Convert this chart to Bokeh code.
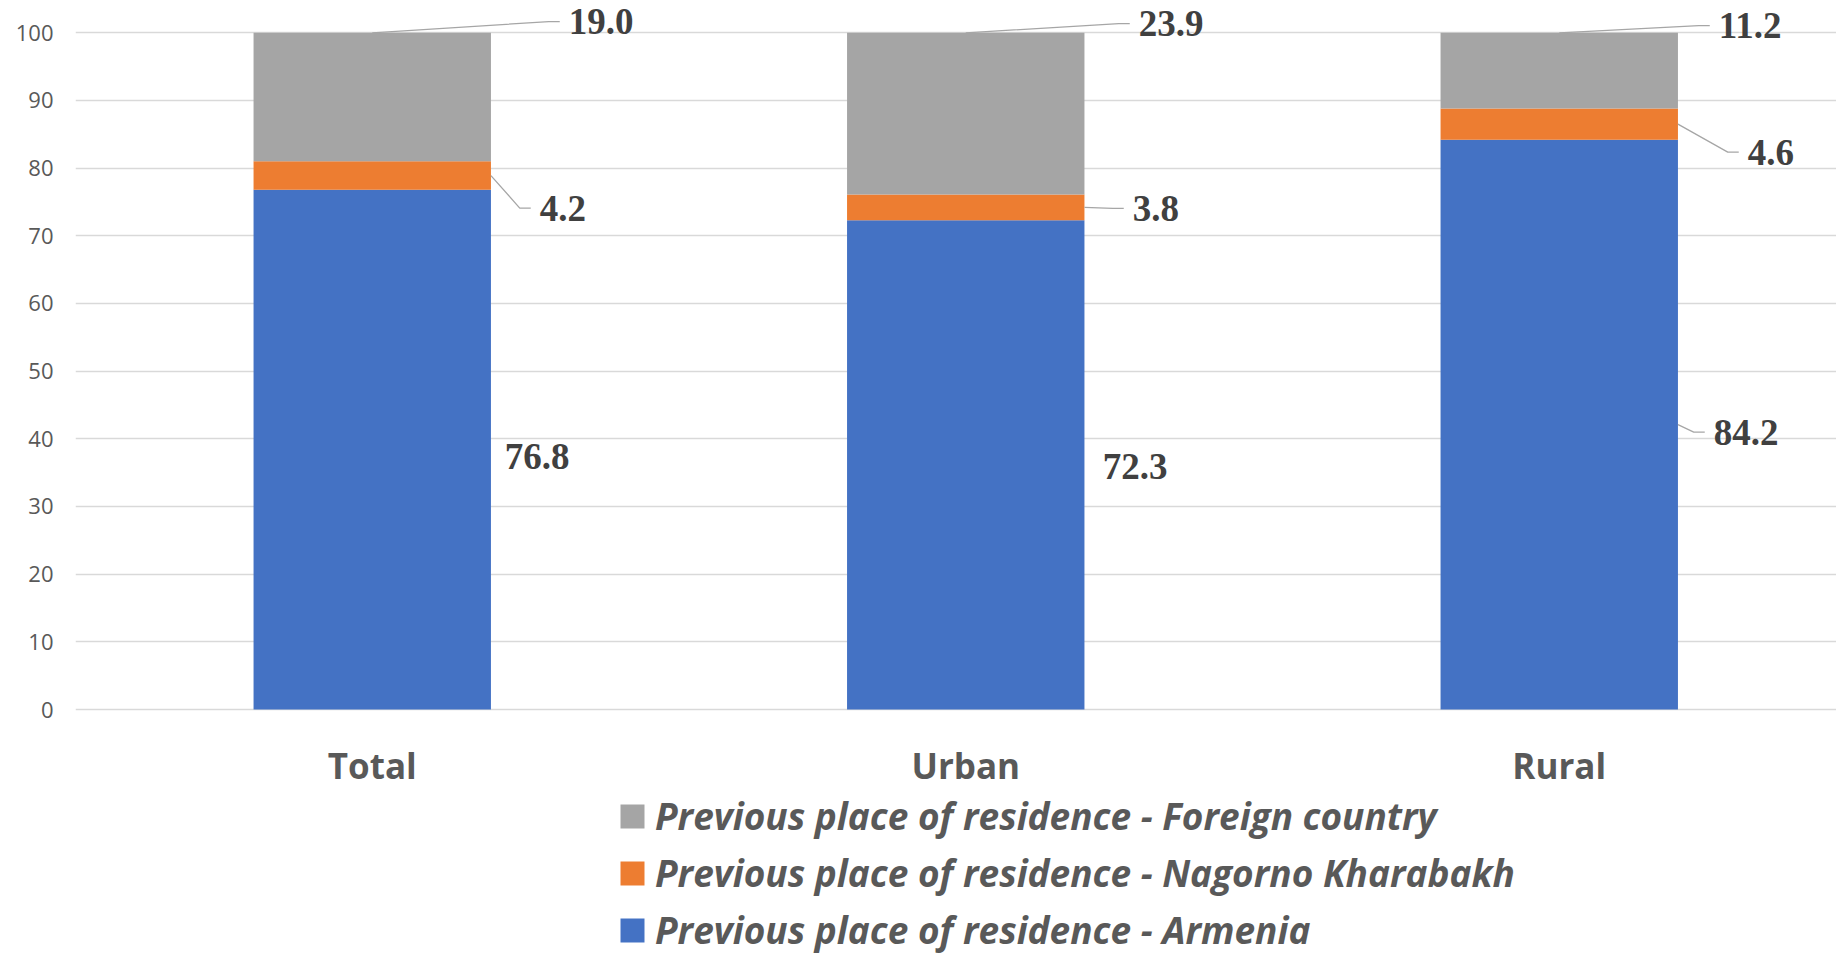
from bokeh.plotting import figure
from bokeh.models import (Range1d, FixedTicker, Legend, LegendItem, ColumnDataSource)
from bokeh.embed import file_html
from bokeh.resources import INLINE
from bokeh.core.properties import value

# ---------------- data ----------------
categories = ["Total", "Urban", "Rural"]
armenia = [76.8, 72.3, 84.2]
karabakh = [4.2, 3.8, 4.6]
foreign = [19.0, 23.9, 11.2]
series_names = ["Previous place of residence - Armenia",
                "Previous place of residence - Nagorno Kharabakh",
                "Previous place of residence - Foreign country"]
y_ticks = [0, 10, 20, 30, 40, 50, 60, 70, 80, 90, 100]

# ---------------- styles ----------------
colors = ["#4472C4", "#ED7D31", "#A5A5A5"]
W, H = 1836, 956
BL = 75
PX_PER_CAT = 593.5      # px per category slot
PX_PER_UNIT = 6.767     # px per percentage point
ZERO_Y = 709            # canvas y of value 0
frame_w = W - BL
frame_h = H
x0, x1 = 0.0, frame_w / PX_PER_CAT
y1 = ZERO_Y / PX_PER_UNIT
y0 = -(H - ZERO_Y) / PX_PER_UNIT
sx = PX_PER_CAT
sy = PX_PER_UNIT
bar_w = 0.4

# label offsets (px, right / down) from (category centre, segment centre)
lab_dx = {"a": [132.5, 137, 154.5], "k": [167.5, 167, 188.5], "f": [196.5, 173, 159.5]}
lab_dy = {"a": [7.0, 2.0, 7.5], "k": [32.5, 1.0, 28.0], "f": [-75.5, -90.0, -45.0]}
leader = {"a": [False, False, True], "k": [True, True, True], "f": [True, True, True]}

xc = [i + 0.5 for i in range(len(categories))]

p = figure(width=W, height=H, output_backend="svg", toolbar_location=None,
           x_range=Range1d(x0, x1), y_range=Range1d(y0, y1),
           x_axis_location=None,
           min_border_left=BL, min_border_right=0, min_border_top=0,
           min_border_bottom=0)
p.outline_line_color = None
p.background_fill_color = "white"
p.border_fill_color = "white"

src = ColumnDataSource(dict(x=xc, a=armenia, k=karabakh, f=foreign))
rs = p.vbar_stack(["a", "k", "f"], x="x", width=bar_w, source=src,
                  color=colors, line_color=None)

# data labels and leaders
keys = ["a", "k", "f"]
vals = {"a": armenia, "k": karabakh, "f": foreign}
lx, ly, ltxt, ldx, ldy = [], [], [], [], []
lead_xs, lead_ys = [], []
for i in range(len(categories)):
    base = 0.0
    for key in keys:
        v = vals[key][i]
        mid = base + v / 2
        dx, dy = lab_dx[key][i], lab_dy[key][i]
        lx.append(xc[i]); ly.append(mid); ltxt.append(f"{v:.1f}")
        ldx.append(dx); ldy.append(dy)
        if leader[key][i]:
            if key == "f":
                start = (xc[i], base + v)
            else:
                start = (xc[i] + bar_w / 2, mid)
            tx = xc[i] + dx / sx
            ty = mid - dy / sy
            end = (tx - 9 / sx, ty)
            elbow = (tx - 20 / sx, ty)
            lead_xs.append([start[0], elbow[0], end[0]])
            lead_ys.append([start[1], elbow[1], end[1]])
        base += v

p.multi_line(lead_xs, lead_ys, line_color="#A6A6A6", line_width=1.3)
p.text(x=lx, y=ly, text=ltxt, x_offset=ldx, y_offset=ldy,
       text_align="left", text_baseline="middle",
       text_font=value("Liberation Serif"), text_font_style="bold",
       text_font_size="37px", text_color="#404040")

# category labels (x axis)
p.text(x=xc, y=[0] * len(xc), text=categories, y_offset=56,
       text_align="center", text_baseline="middle",
       text_font=value("Open Sans"), text_font_style="bold",
       text_font_size="35px", text_color="#595959")

# y axis
p.yaxis.ticker = FixedTicker(ticks=y_ticks)
p.yaxis.major_label_text_font = "Open Sans"
p.yaxis.major_label_text_font_size = "22px"
p.yaxis.major_label_text_color = "#595959"
p.yaxis.major_label_standoff = 22
p.yaxis.major_tick_out = 0
p.yaxis.major_tick_in = 0
p.yaxis.axis_line_color = None
p.yaxis.major_tick_line_color = None
p.yaxis.minor_tick_line_color = None

p.xgrid.grid_line_color = None
p.ygrid.ticker = FixedTicker(ticks=y_ticks)
p.ygrid.grid_line_color = "#D9D9D9"
p.ygrid.grid_line_width = 1.5

legend = Legend(items=[LegendItem(label=value(series_names[2]), renderers=[rs[2]]),
                       LegendItem(label=value(series_names[1]), renderers=[rs[1]]),
                       LegendItem(label=value(series_names[0]), renderers=[rs[0]])],
                location=(542, 1), orientation="vertical",
                glyph_width=30, glyph_height=30, label_height=30,
                label_standoff=8, spacing=6, padding=0, margin=0,
                border_line_color=None, background_fill_alpha=0,
                label_text_font="Open Sans", label_text_font_style="bold italic",
                label_text_font_size="37px", label_text_color="#595959")
p.add_layout(legend, "center")

open("out.html", "w").write(file_html(p, INLINE))
